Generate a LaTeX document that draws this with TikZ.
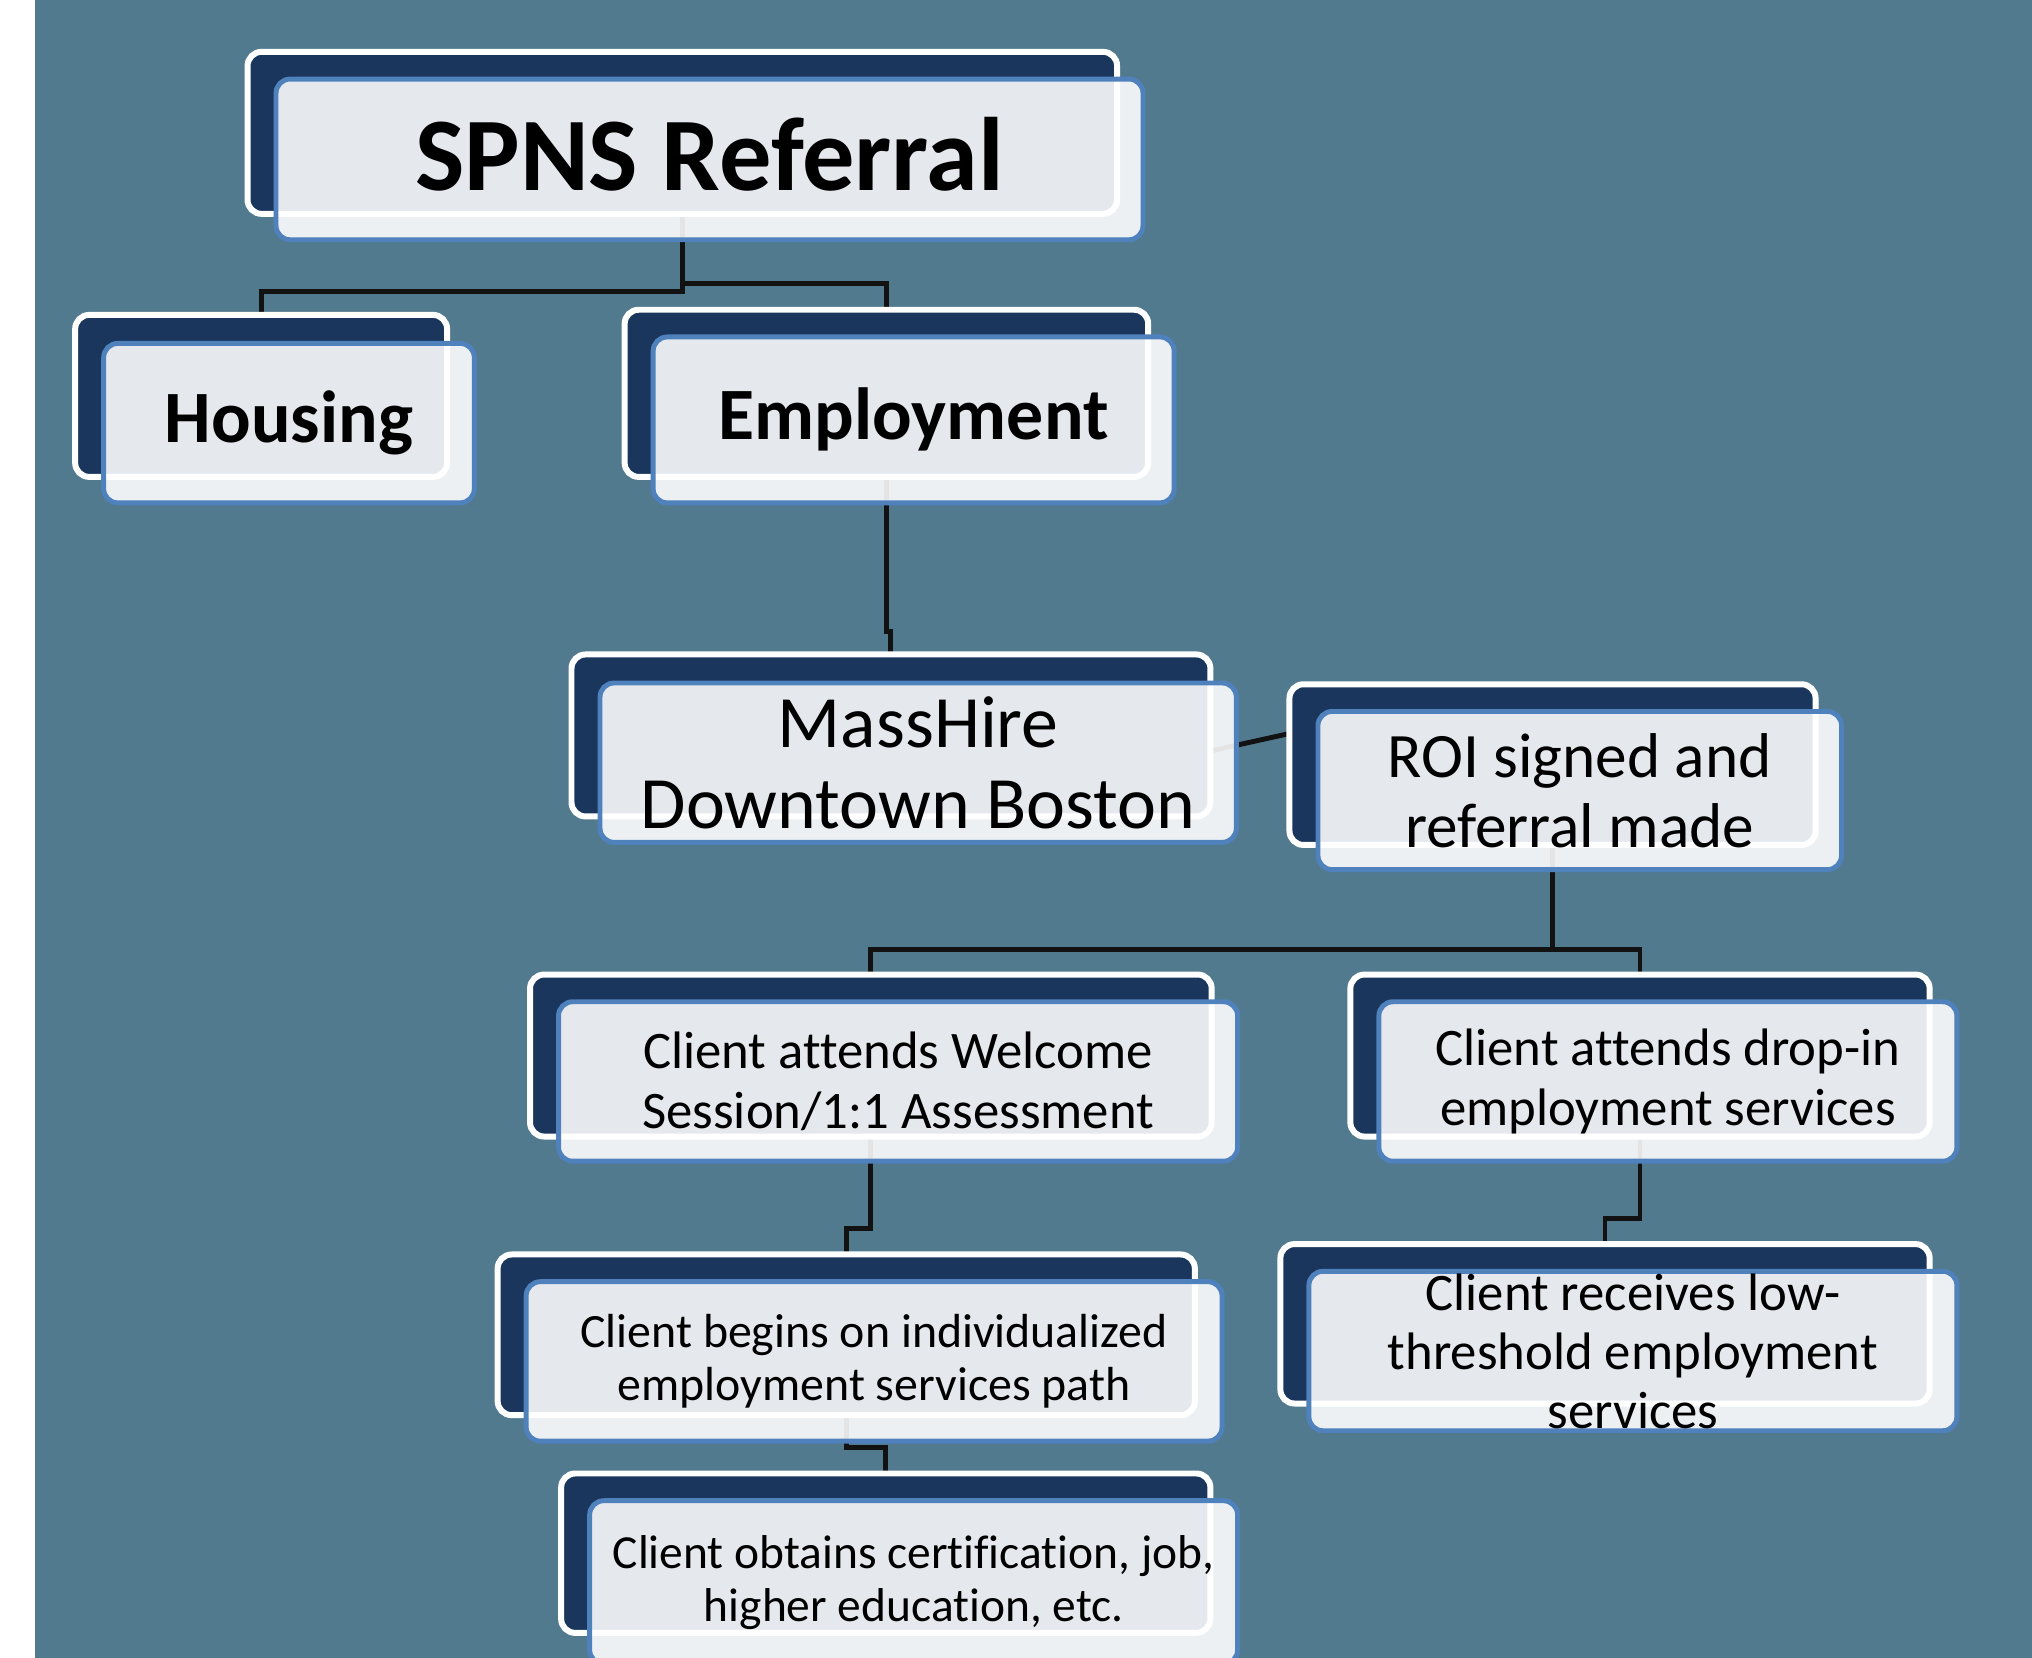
\documentclass[tikz,border=0pt]{standalone}
\usepackage{fontspec}
\setmainfont{Carlito}[Ligatures={NoCommon}]
\usetikzlibrary{fit,calc}

\definecolor{slate}{RGB}{82,122,142}
\definecolor{navy}{RGB}{26,54,93}
\definecolor{edgeblue}{RGB}{79,129,189}

\pgfdeclarelayer{base}
\pgfdeclarelayer{links}
\pgfdeclarelayer{cards}
\pgfsetlayers{base,links,main,cards}

\tikzset{
  backbox/.style={fit={#1}, inner sep=0pt, outer sep=0pt, draw=white, line width=1.7pt,
                  fill=navy, rounded corners=4pt},
  frontbox/.style={fit={#1}, inner sep=0pt, outer sep=0pt, draw=edgeblue, line width=1.4pt,
                   fill=white, fill opacity=0.89, rounded corners=4pt},
  conn/.style={draw=black!93, line width=1.4pt},
  lbl/.style={align=center, text=black, inner sep=0pt},
}

\begin{document}
\begin{tikzpicture}[x=0.012959cm, y=-0.012959cm]
\useasboundingbox (0,0) rectangle (1568,1279);
\begin{pgfonlayer}{base}
  \fill[white] (0,0) rectangle (1568,1279);
  \fill[slate] (27,0) rectangle (1568,1279);
\end{pgfonlayer}

% dark back plates
\node[backbox={(191,40) (862,165)}]    (spnsB) {};
\node[backbox={(58,243) (345,368)}]    (housB) {};
\node[backbox={(482,239) (886,368)}]   (emplB) {};
\node[backbox={(441,505) (934,630)}]   (massB) {};
\node[backbox={(995,528) (1401,652)}]  (roiB)  {};
\node[backbox={(409,752) (935,877)}]   (welcB) {};
\node[backbox={(1042,752) (1489,877)}] (dropB) {};
\node[backbox={(384,968) (922,1092)}]  (indvB) {};
\node[backbox={(988,960) (1489,1083)}] (lowB)  {};
\node[backbox={(433,1137) (934,1260)}] (obtB)  {};

% connectors, behind the plates
\begin{pgfonlayer}{links}
  \draw[conn] (spnsB.south) -- ++(0,60) -| (housB.north);
  \draw[conn] (spnsB.south) -- ++(0,54) -| (emplB.north);
  \draw[conn] (emplB.south) -- ++(0,119) -| (massB.north);
  \coordinate (mhOut) at ($(massB.east)+(0,12)$);
  \coordinate (roiIn) at ($(roiB.west)+(0,-24)$);
  \draw[conn] (mhOut) -- (roiIn);
  \draw[conn] (roiB.south) -- ++(0,81) -| (welcB.north);
  \draw[conn] (roiB.south) -- ++(0,81) -| (dropB.north);
  \draw[conn] (welcB.south) -- ++(0,71) -| (indvB.north);
  \draw[conn] (dropB.south) -- ++(0,63) -| (lowB.north);
  \draw[conn] (indvB.south) -- ++(0,25) -| (obtB.north);
\end{pgfonlayer}

% light cards in front
\begin{pgfonlayer}{cards}
  \node[frontbox={(213,61) (882,185)}]    (spnsF) {};
  \node[frontbox={(80,265) (366,388)}]    (housF) {};
  \node[frontbox={(504,260) (906,388)}]   (emplF) {};
  \node[frontbox={(463,527) (954,650)}]   (massF) {};
  \node[frontbox={(1017,549) (1421,671)}] (roiF)  {};
  \node[frontbox={(431,773) (955,896)}]   (welcF) {};
  \node[frontbox={(1064,773) (1510,896)}] (dropF) {};
  \node[frontbox={(406,989) (943,1112)}]  (indvF) {};
  \node[frontbox={(1010,981) (1510,1104)}] (lowF) {};
  \node[frontbox={(455,1158) (955,1284)}] (obtF)  {};

  \node[lbl, font=\bfseries\fontsize{29.7}{34}\selectfont] (spnsT) at ($(spnsF.center)+(0,-4)$) {SPNS Referral};
  \node[lbl, font=\bfseries\fontsize{21}{25}\selectfont] (housT) at (housF.center) {Housing};
  \node[lbl, font=\bfseries\fontsize{21}{25}\selectfont] (emplT) at (emplF.center) {Employment};
  \node[lbl, font=\fontsize{21}{23}\selectfont] (massT) at (massF.center) {MassHire\\Downtown Boston};
  \node[lbl, font=\fontsize{18}{20}\selectfont] (roiT) at (roiF.center) {ROI signed and\\referral made};
  \node[lbl, font=\fontsize{15}{17}\selectfont] (welcT) at (welcF.center) {Client attends Welcome\\Session/1:1 Assessment};
  \node[lbl, font=\fontsize{15}{17}\selectfont] (dropT) at (dropF.center) {Client attends drop-in\\employment services};
  \node[lbl, font=\fontsize{13.6}{15.1}\selectfont] (indvT) at (indvF.center) {Client begins on individualized\\employment services path};
  \node[lbl, font=\fontsize{15}{16.8}\selectfont] (lowT) at (lowF.center) {Client receives low-\\threshold employment\\services};
  \node[lbl, font=\fontsize{13.5}{15.1}\selectfont] (obtT) at (obtF.center) {Client obtains certification, job,\\higher education, etc.};
\end{pgfonlayer}
\end{tikzpicture}
\end{document}
